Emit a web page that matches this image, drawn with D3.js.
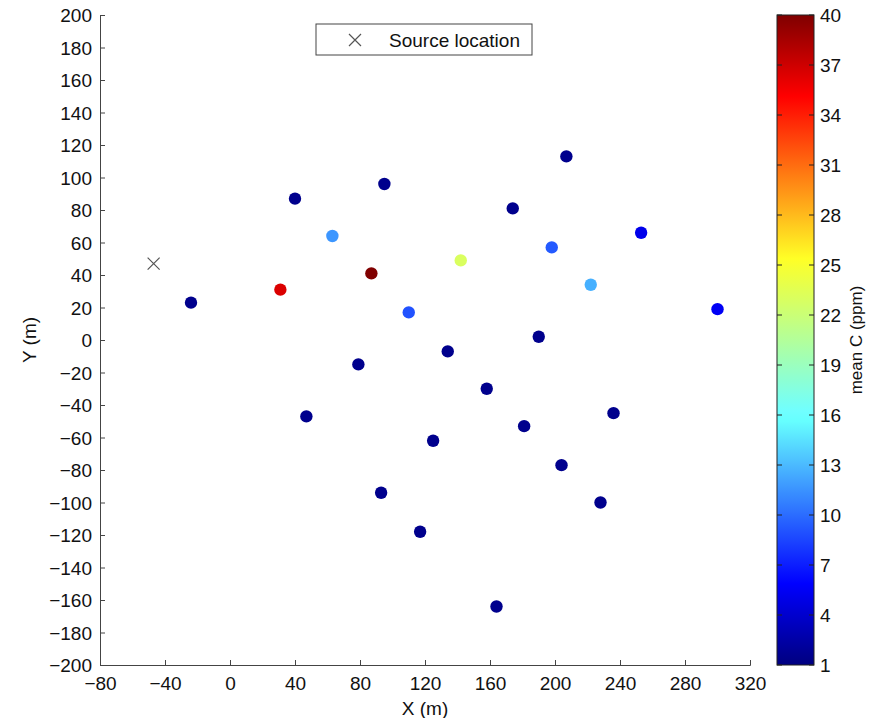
<!DOCTYPE html>
<html>
<head>
<meta charset="utf-8">
<script src="https://cdn.jsdelivr.net/npm/d3@7"></script>
<style>
  body { margin: 0; background: #fff; }
  text { font-family: "Liberation Sans", Arial, sans-serif; fill: #111; }
</style>
</head>
<body>
<script>
// sensor locations and mean concentrations
const xs = [-24, 31, 40, 63, 87, 95, 79, 47, 110, 134, 125, 93, 117, 142, 174, 158, 181, 164, 207, 198, 190, 204, 222, 253, 236, 228, 300];
const ys = [23, 31, 87, 64, 41, 96, -15, -47, 17, -7, -62, -94, -118, 49, 81, -30, -53, -164, 113, 57, 2, -77, 34, 66, -45, -100, 19];
const meanC = [1.5, 36.5, 1.5, 11.6, 40, 1.5, 1.5, 1.5, 9, 1.5, 1.5, 1.5, 1.5, 23, 1.5, 1.5, 1.5, 1.5, 1.5, 9.3, 1.5, 1.5, 12.6, 5.1, 1.5, 1.5, 5.5];
const source = [-47, 47];

const xTicks = [-80, -40, 0, 40, 80, 120, 160, 200, 240, 280, 320];
const yTicks = d3.range(-200, 201, 20);
const cTicks = [1, 4, 7, 10, 13, 16, 19, 22, 25, 28, 31, 34, 37, 40];

const W = 873, H = 718;
const svg = d3.select("body").append("svg").attr("width", W).attr("height", H);

const x = d3.scaleLinear().domain([-80, 320]).range([100, 750]);
const y = d3.scaleLinear().domain([-200, 200]).range([665, 15]);
const c = d3.scaleLinear().domain([1, 40]).range([665, 15]);

// jet colormap, slightly softened in the blue-cyan part like the reference
function jet(v) {
  const t = (v - 1) / 39;
  const cl = (a) => Math.max(0, Math.min(1, a));
  let r = cl(1.5 - Math.abs(4 * t - 3));
  const g = cl(1.5 - Math.abs(4 * t - 2));
  let b = cl(1.5 - Math.abs(4 * t - 1));
  r = cl(r + 0.4 * g * b);
  b = cl(b + 0.15 * g * r);
  return d3.rgb(r * 255, g * 255, b * 255).toString();
}

const fs = "19px";
const fmt = (d) => String(d).replace("-", "\u2212");

// axes
const xAxis = svg.append("g").attr("transform", "translate(0,665)")
  .call(d3.axisBottom(x).tickValues(xTicks).tickSize(-5).tickPadding(12).tickFormat(fmt));
const yAxis = svg.append("g").attr("transform", "translate(100,0)")
  .call(d3.axisLeft(y).tickValues(yTicks).tickSize(-5).tickPadding(8).tickFormat(fmt));
[xAxis, yAxis].forEach((a) => {
  a.select(".domain").attr("stroke", "#444");
  a.selectAll(".tick line").attr("stroke", "#444");
  a.selectAll("text").style("font-size", fs).attr("fill", "#111");
});
yAxis.selectAll("text").attr("dy", "0.36em");

svg.append("text").attr("x", 425).attr("y", 715).attr("text-anchor", "middle")
  .style("font-size", fs).text("X (m)");
svg.append("text").attr("transform", "translate(36,340) rotate(-90)")
  .attr("text-anchor", "middle").style("font-size", fs).text("Y (m)");

// points
svg.selectAll("circle.pt")
  .data(xs.map((d, i) => ({ x: d, y: ys[i], c: meanC[i] })))
  .enter()
  .append("circle")
  .attr("class", "pt")
  .attr("cx", (d) => x(d.x))
  .attr("cy", (d) => y(d.y))
  .attr("r", 6.2)
  .attr("fill", (d) => jet(d.c));

// source marker
function cross(g, cx, cy, s) {
  g.append("path")
    .attr("d", `M${cx - s},${cy - s}L${cx + s},${cy + s}M${cx - s},${cy + s}L${cx + s},${cy - s}`)
    .attr("stroke", "#555").attr("stroke-width", 1.2).attr("fill", "none");
}
cross(svg, x(source[0]), y(source[1]), 6);

// legend
svg.append("rect").attr("x", 316).attr("y", 24).attr("width", 216).attr("height", 31)
  .attr("fill", "#fff").attr("stroke", "#444");
cross(svg, 355, 40, 6);
svg.append("text").attr("x", 389).attr("y", 47).style("font-size", fs).text("Source location");

// colorbar
const defs = svg.append("defs");
const grad = defs.append("linearGradient").attr("id", "jet")
  .attr("x1", 0).attr("y1", 1).attr("x2", 0).attr("y2", 0);
d3.range(0, 65).forEach((i) => {
  const v = 1 + (39 * i) / 64;
  grad.append("stop").attr("offset", i / 64).attr("stop-color", jet(v));
});
svg.append("rect").attr("x", 777).attr("y", 15).attr("width", 37).attr("height", 650)
  .attr("fill", "url(#jet)").attr("stroke", "#222");
const cb = svg.append("g");
cb.selectAll("line.l").data(cTicks).enter().append("line")
  .attr("x1", 777).attr("x2", 782).attr("y1", (d) => c(d)).attr("y2", (d) => c(d))
  .attr("stroke", "#222");
cb.selectAll("line.r").data(cTicks).enter().append("line")
  .attr("x1", 809).attr("x2", 814).attr("y1", (d) => c(d)).attr("y2", (d) => c(d))
  .attr("stroke", "#222");
cb.selectAll("text").data(cTicks).enter().append("text")
  .attr("x", 820).attr("y", (d) => c(d)).attr("dy", "0.36em")
  .style("font-size", fs).text((d) => d);
svg.append("text").attr("transform", "translate(862,340) rotate(-90)")
  .attr("text-anchor", "middle").style("font-size", "17px").text("mean C (ppm)");
</script>
</body>
</html>
